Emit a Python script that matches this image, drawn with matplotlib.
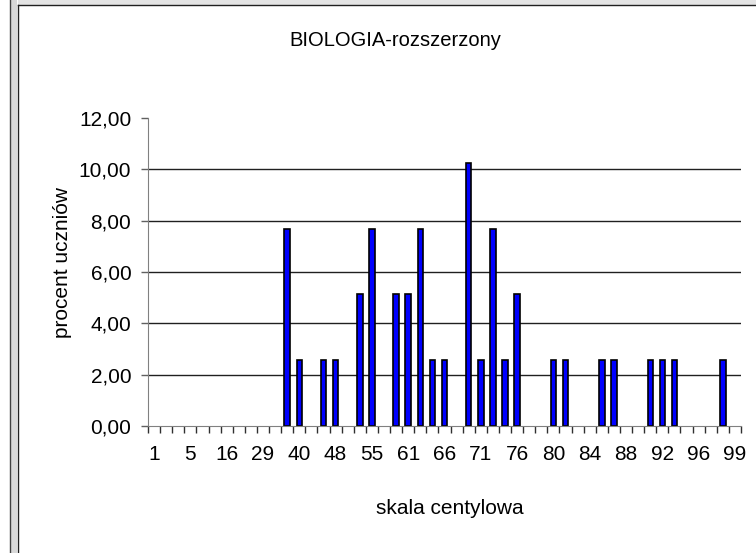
import matplotlib
matplotlib.use("Agg")
import matplotlib.pyplot as plt
from matplotlib.patches import Rectangle
from matplotlib.lines import Line2D
import numpy as np

plt.rcParams['font.family'] = ['Liberation Sans', 'DejaVu Sans']

# centile scale categories (only every third label is visible in the original)
categories = ['1', '2', '4', '5', '8', '12', '16', '20', '25', '29', '33', '36',
              '40', '43', '45', '48', '50', '53', '55', '57', '59', '61', '63', '64',
              '66', '68', '69', '71', '73', '74', '76', '77', '79', '80', '81', '83',
              '84', '85', '87', '88', '89', '91', '92', '93', '95', '96', '97', '98', '99']

# percent of pupils per category (0 where no bar)
values = [0, 0, 0, 0, 0, 0, 0, 0, 0, 0, 0, 7.69,
          2.56, 0, 2.56, 2.56, 0, 5.13, 7.69, 0, 5.13, 5.13, 7.69, 2.56,
          2.56, 0, 10.26, 2.56, 7.69, 2.56, 5.13, 0, 0, 2.56, 2.56, 0,
          0, 2.56, 2.56, 0, 0, 2.56, 2.56, 2.56, 0, 0, 0, 2.56, 0]

yticks = [0, 2, 4, 6, 8, 10, 12]

W, H = 756, 553
fig = plt.figure(figsize=(W / 100, H / 100), dpi=100)

# window frame on the left / top
fig.patches.append(Rectangle((18 / W, 1 - 5 / H), 1, 5 / H, transform=fig.transFigure,
                             facecolor='#e4e4e4', edgecolor='none'))
fig.patches.append(Rectangle((11 / W, 0), 6 / W, 1, transform=fig.transFigure,
                             facecolor='#d8d8d8', edgecolor='none'))
fig.lines.append(Line2D([9.5 / W, 9.5 / W], [0, 1], transform=fig.transFigure,
                        color='#404040', lw=1.0))
fig.lines.append(Line2D([18 / W, 18 / W], [0, 1 - 5 / H], transform=fig.transFigure,
                        color='#202020', lw=1.0))
fig.lines.append(Line2D([18 / W, 1], [1 - 5 / H, 1 - 5 / H], transform=fig.transFigure,
                        color='#202020', lw=1.0))

ax = fig.add_axes([148 / W, 1 - 426 / H, 593 / W, 308 / H])

x = np.arange(len(categories))
vals = np.array(values)
nz = vals > 0
ax.bar(x[nz], vals[nz], width=0.45, color='#0000ff', edgecolor='black', linewidth=1.2,
       zorder=3)

ax.set_xlim(-0.5, len(categories) - 0.5)
ax.set_ylim(0, 12)

for v in yticks[1:-1]:
    ax.axhline(v, color='#202020', lw=1.0, zorder=1)

ax.set_yticks(yticks)
ax.set_yticklabels([f"{v:.2f}".replace('.', ',') for v in yticks])
ax.set_xticks(x[::3])
ax.set_xticklabels(categories[::3])
ax.set_xticks(np.arange(len(categories) + 1) - 0.5, minor=True)

ax.tick_params(axis='x', which='major', length=0, pad=14, labelsize=15)
ax.tick_params(axis='x', which='minor', length=5, width=1, color='#303030', direction='out')
ax.tick_params(axis='y', length=5, width=1, color='#606060', pad=7, labelsize=15)

for s in ['top', 'right']:
    ax.spines[s].set_visible(False)
ax.spines['left'].set_color('#808080')
ax.spines['bottom'].set_color('#808080')
ax.spines['bottom'].set_zorder(4)

fig.text(395 / W, 1 - 41 / H, 'BIOLOGIA-rozszerzony', ha='center', va='center', fontsize=14.5)
fig.text(450 / W, 1 - 509 / H, 'skala centylowa', ha='center', va='center', fontsize=15)
fig.text(63 / W, 1 - 262 / H, 'procent uczniów', ha='center', va='center', fontsize=15,
         rotation=90)

fig.savefig('out.png', dpi=100)
